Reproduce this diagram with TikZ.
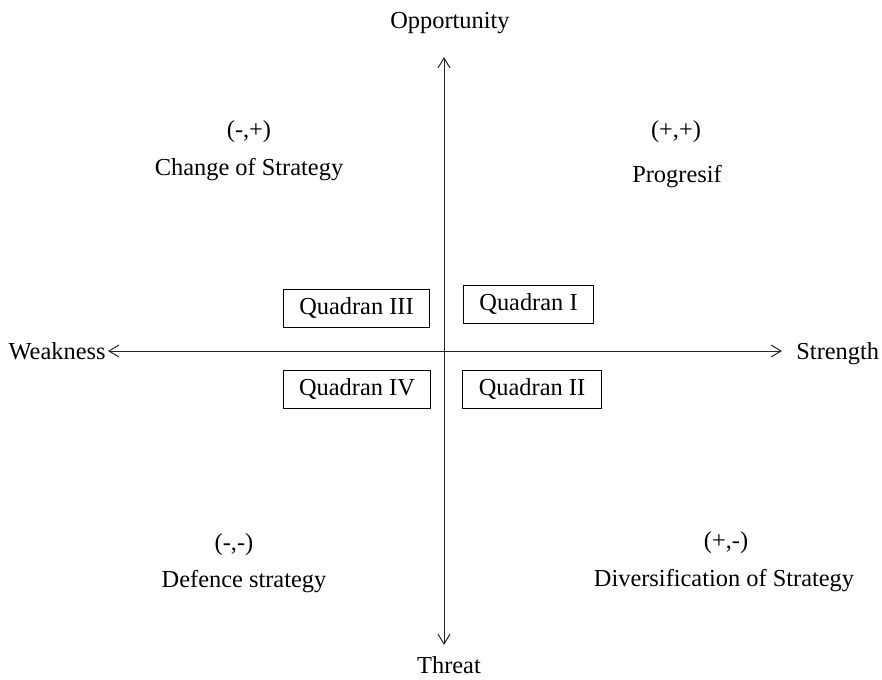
\documentclass[tikz,border=0pt]{standalone}
\usepackage{fontspec}
\setmainfont{Liberation Serif}
\usetikzlibrary{arrows.meta, positioning}

\tikzset{
	axis/.style={black!85, line width=0.5pt, {Straight Barb[length=5pt, width=6pt]}-{Straight Barb[length=5pt, width=6pt]}},
	quad/.style={draw, line width=0.5pt, inner xsep=8pt, minimum height=19pt},
	lbl/.style={inner sep=0pt}
}

\begin{document}
\begin{tikzpicture}[x=0.5pt, y=-0.5pt, font=\fontsize{12.2}{14}\selectfont]

	\useasboundingbox (0,0) rectangle (882,679);

%axes
	\coordinate [] (top) at (444,57){};
	\coordinate [] (bottom) at (444,645){};
	\coordinate [] (left) at (108,351){};
	\coordinate [] (right) at (782,351){};

	\draw [axis] (bottom) -- (top);
	\draw [axis] (left) -- (right);

	\node [lbl] (opp) at (450,23) {Opportunity};
	\node [lbl] (thr) at (449,665) {Threat};
	\node [lbl, left=1pt of left] (weak) {Weakness};
	\node [lbl, right=7pt of right, yshift=-1.5pt] (str) {Strength};

%quadrant boxes
	\node [quad] (q3) at (356.5,308.5) {Quadran III};
	\node [quad] (q1) at (528.5,304.5) {Quadran I};
	\node [quad] (q4) at (357,389) {Quadran IV};
	\node [quad] (q2) at (532,389) {Quadran II};

%corner labels
	\node [lbl] (mp) at (249,132) {(-,+)};
	\node [lbl] (change) at (249,170) {Change of Strategy};
	%
	\node [lbl] (pp) at (676,132) {(+,+)};
	\node [lbl] (prog) at (677,177) {Progresif};
	%
	\node [lbl] (mm) at (234,545) {(-,-)};
	\node [lbl] (def) at (244,582) {Defence strategy};
	%
	\node [lbl] (pm) at (726,543) {(+,-)};
	\node [lbl] (div) at (724,581) {Diversification of Strategy};

\end{tikzpicture}
\end{document}
